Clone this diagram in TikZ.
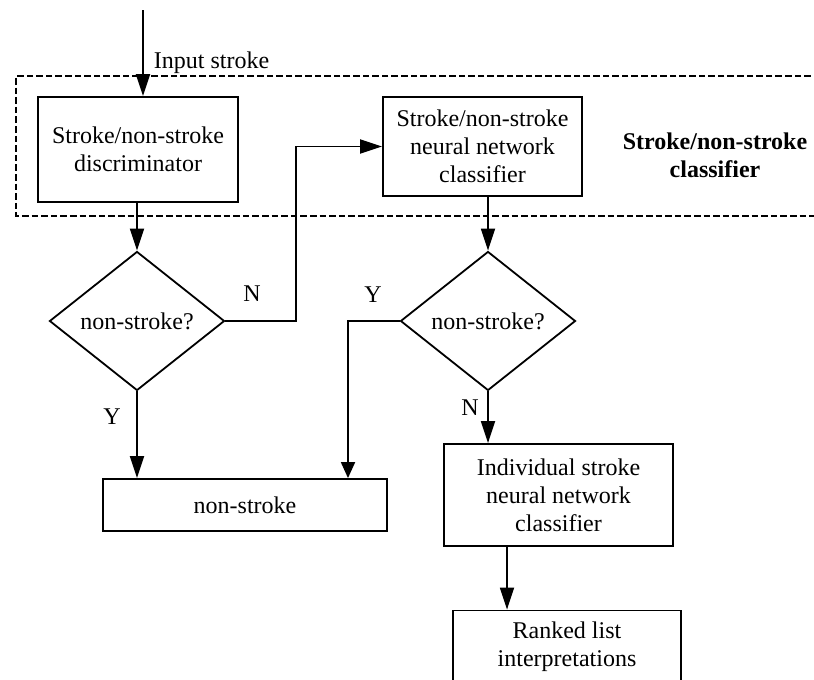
\documentclass[tikz,border=0pt]{standalone}
\usepackage{fontspec}
\setmainfont{Liberation Serif}
\usetikzlibrary{arrows.meta,shapes.geometric}

\begin{document}
\begin{tikzpicture}[
    x=0.5pt, y=-0.5pt,
    line width=0.9pt,
    txt/.style={font=\fontsize{12}{14}\selectfont, align=center},
    procbox/.style={txt, draw, rectangle, inner sep=0pt},
    decide/.style={txt, draw, diamond, inner sep=0pt,
                   minimum width=87.5pt, minimum height=69.5pt},
    lbl/.style={font=\fontsize{12}{14}\selectfont, inner sep=0pt},
    flow/.style={-{Triangle[length=11pt,width=7pt]}},
    shortflow/.style={-{Triangle[length=8pt,width=7pt]}},
    group/.style={dash pattern=on 3.3pt off 1.5pt, line width=0.7pt}
]
  \useasboundingbox (0,0) rectangle (814,680);

  % dashed frame of the stroke/non-stroke classifier stage
  \draw[group] (830,76) -- (16,76) -- (16,216) -- (830,216);
  \node[txt, font=\fontsize{12}{14}\selectfont\bfseries] (stagelabel) at (715,155)
       {Stroke/non-stroke\\classifier};

  % blocks
  \node[procbox, minimum width=100pt, minimum height=52.5pt] (disc) at (138,149.5)
       {Stroke/non-stroke\\discriminator};
  \node[procbox, minimum width=99.5pt, minimum height=49.5pt] (snn) at (482.5,146.5)
       {Stroke/non-stroke\\neural network\\classifier};
  \node[decide] (d1) at (137,321) {non-stroke?};
  \node[decide] (d2) at (488,321) {non-stroke?};
  \node[procbox, minimum width=142pt, minimum height=26pt] (nons) at (245,505)
       {non-stroke};
  \node[procbox, minimum width=114.5pt, minimum height=51pt] (indiv) at (558.5,495)
       {Individual stroke\\neural network\\classifier};
  \node[procbox, minimum width=114pt, minimum height=36pt] (ranked) at (567,646.5)
       {Ranked list\\interpretations};

  % input
  \coordinate (in) at (143,10);
  \draw[flow] (in) -- (in |- disc.north);
  \node[lbl, anchor=west] (inlbl) at (153,63) {Input stroke};

  % connectors
  \draw[flow] (disc.south -| d1.north) -- (d1.north);
  \draw[flow] (d1.south) -- (d1.south |- nons.north);
  \node[lbl] (y1) at (112,417) {Y};

  \coordinate (nbend) at (296,321);
  \draw[flow] (d1.east) -- (nbend) |- (snn.west);
  \node[lbl] (n1) at (252,294) {N};

  \draw[flow] (snn.south -| d2.north) -- (d2.north);

  \coordinate (ybend) at (348,321);
  \draw[shortflow] (d2.west) -- (ybend) -- (ybend |- nons.north);
  \node[lbl] (y2) at (373,295) {Y};

  \draw[flow] (d2.south) -- (d2.south |- indiv.north);
  \node[lbl] (n2) at (470,408) {N};

  \coordinate (rk) at (507,546);
  \draw[flow] (rk |- indiv.south) -- (rk |- ranked.north);
\end{tikzpicture}
\end{document}
